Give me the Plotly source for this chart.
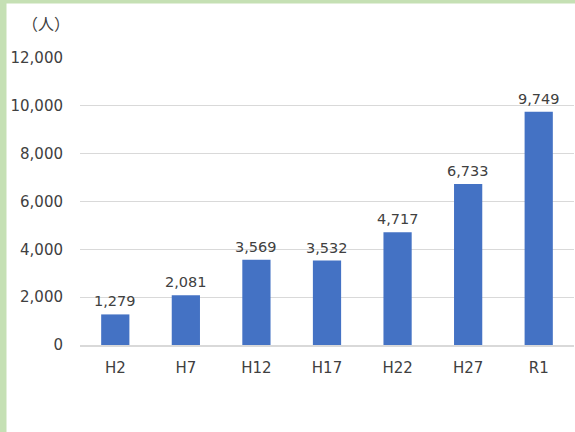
import plotly.graph_objects as go

categories = ["H2", "H7", "H12", "H17", "H22", "H27", "R1"]
values = [1279, 2081, 3569, 3532, 4717, 6733, 9749]
tick_vals = [0, 2000, 4000, 6000, 8000, 10000, 12000]
tick_text = ["0", "2,000", "4,000", "6,000", "8,000", "10,000", "12,000"]

FONT = "DejaVu Sans, Noto Sans CJK JP"
TXT = "#404040"

fig = go.Figure(go.Bar(
    x=categories, y=values,
    width=0.4,
    marker=dict(color="#4472C4", line=dict(width=0)),
    hoverinfo="x+y",
))

label_annotations = [
    dict(x=c, y=v, xref="x", yref="y", text=f"{v:,}", showarrow=False,
         xanchor="center", yanchor="bottom", yshift=3,
         font=dict(family=FONT, size=14.5, color=TXT))
    for c, v in zip(categories, values)
]

fig.update_layout(
    width=575, height=432,
    margin=dict(l=80, r=1, t=58, b=87),
    paper_bgcolor="white", plot_bgcolor="white",
    showlegend=False,
    bargap=0.6,
    font=dict(family=FONT, size=15, color=TXT),
    xaxis=dict(showgrid=False, showline=True, linecolor="#d9d9d9", linewidth=1.5,
               ticks="", ticklabelstandoff=8,
               tickfont=dict(family=FONT, size=15, color=TXT)),
    yaxis=dict(range=[0, 12000], tickvals=tick_vals, ticktext=tick_text,
               showgrid=True, gridcolor="#d9d9d9", gridwidth=1,
               zeroline=False, showline=False, ticks="",
               ticklabelstandoff=16,
               tickfont=dict(family=FONT, size=15, color=TXT)),
    shapes=[
        dict(type="rect", xref="paper", yref="paper", x0=-80/494, x1=-73.5/494,
             y0=-87/287, y1=(287+58)/287, fillcolor="#C5E0B4", line=dict(width=0), layer="below"),
        dict(type="rect", xref="paper", yref="paper", x0=-80/494, x1=1.01,
             y0=(287+54.5)/287, y1=(287+58)/287, fillcolor="#C5E0B4", line=dict(width=0), layer="below"),
    ],
    annotations=label_annotations + [dict(text="（人）", xref="paper", yref="paper",
                      x=-8/494, y=(287+35)/287, xanchor="right", yanchor="middle",
                      showarrow=False, font=dict(family="Noto Sans CJK JP", size=16, color=TXT))],
)

fig.write_html("out.html", config={"displayModeBar": False},
               post_script="document.body.style.margin='0';document.body.style.overflow='hidden';")
